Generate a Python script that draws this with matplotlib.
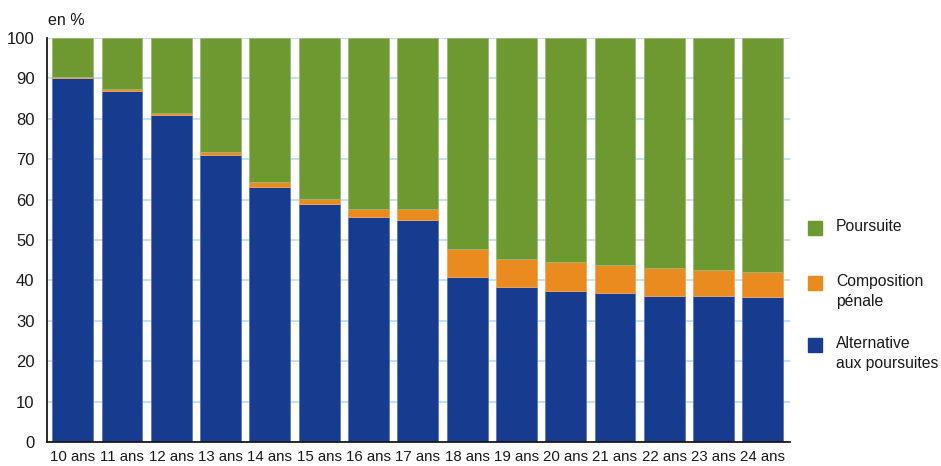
import matplotlib.pyplot as plt
from matplotlib.patches import Rectangle

plt.rcParams["font.family"] = ["Liberation Sans", "DejaVu Sans"]

# ============================
# données
# ============================

ages = ["10 ans", "11 ans", "12 ans", "13 ans", "14 ans", "15 ans", "16 ans", "17 ans",
        "18 ans", "19 ans", "20 ans", "21 ans", "22 ans", "23 ans", "24 ans"]
alternative = [90.1, 86.9, 81.0, 71.0, 63.2, 58.9, 55.7, 55.0,
               40.9, 38.4, 37.4, 37.0, 36.2, 36.2, 35.8]
composition = [0.2, 0.5, 0.5, 0.9, 1.2, 1.2, 2.0, 2.7,
               6.8, 6.9, 7.2, 6.8, 6.8, 6.4, 6.4]
poursuite = [100 - a - c for a, c in zip(alternative, composition)]

c_blue = "#173c8f"
c_orange = "#e98b1e"
c_green = "#6e9830"

fig = plt.figure(figsize=(9.41, 4.66), dpi=100)
ax = fig.add_axes([0.050, 0.0515, 0.7895, 0.867])

x = list(range(len(ages)))
bot2 = [a + c for a, c in zip(alternative, composition)]

ax.bar(x, alternative, width=0.83, color=c_blue, edgecolor="#5a78b8", linewidth=0.6, zorder=3)
ax.bar(x, composition, bottom=alternative, width=0.83, color=c_orange,
       edgecolor="#f0a860", linewidth=0.6, zorder=3)
ax.bar(x, poursuite, bottom=bot2, width=0.83, color=c_green,
       edgecolor="#9cb878", linewidth=0.6, zorder=3)

ax.set_xlim(-0.52, 14.55)
ax.set_ylim(0, 100)
ax.set_yticks(range(0, 101, 10))
ax.set_xticks(x)
ax.set_xticklabels(ages)
ax.tick_params(axis="both", length=0, colors="#1a1a1a")
ax.tick_params(axis="x", pad=6, labelsize=10.8)
ax.tick_params(axis="y", pad=9, labelsize=12)

ax.grid(axis="y", color="#b9dcf0", linewidth=1.2, zorder=0)
ax.set_axisbelow(True)

for s in ["top", "right"]:
    ax.spines[s].set_visible(False)
for s in ["left", "bottom"]:
    ax.spines[s].set_color("#1a1a1a")
    ax.spines[s].set_linewidth(1.3)
    ax.spines[s].set_zorder(4)

fig.text(0.051, 0.955, "en %", fontsize=11.5, color="#1a1a1a", va="center", ha="left")

# légende
W, H = 941, 466
items = [
    (c_green, "Poursuite", 228),
    (c_orange, "Composition\npénale", 283),
    (c_blue, "Alternative\naux poursuites", 345),
]
for col, lab, yc in items:
    fig.patches.append(Rectangle((808 / W, 1 - (yc + 7) / H), 14 / W, 14 / H,
                                 transform=fig.transFigure, color=col))
    fig.text(836 / W, 1 - (yc - 9) / H, lab, fontsize=11.3, color="#1a1a1a",
             va="top", ha="left", linespacing=1.4)

fig.savefig("out.png", dpi=100)
